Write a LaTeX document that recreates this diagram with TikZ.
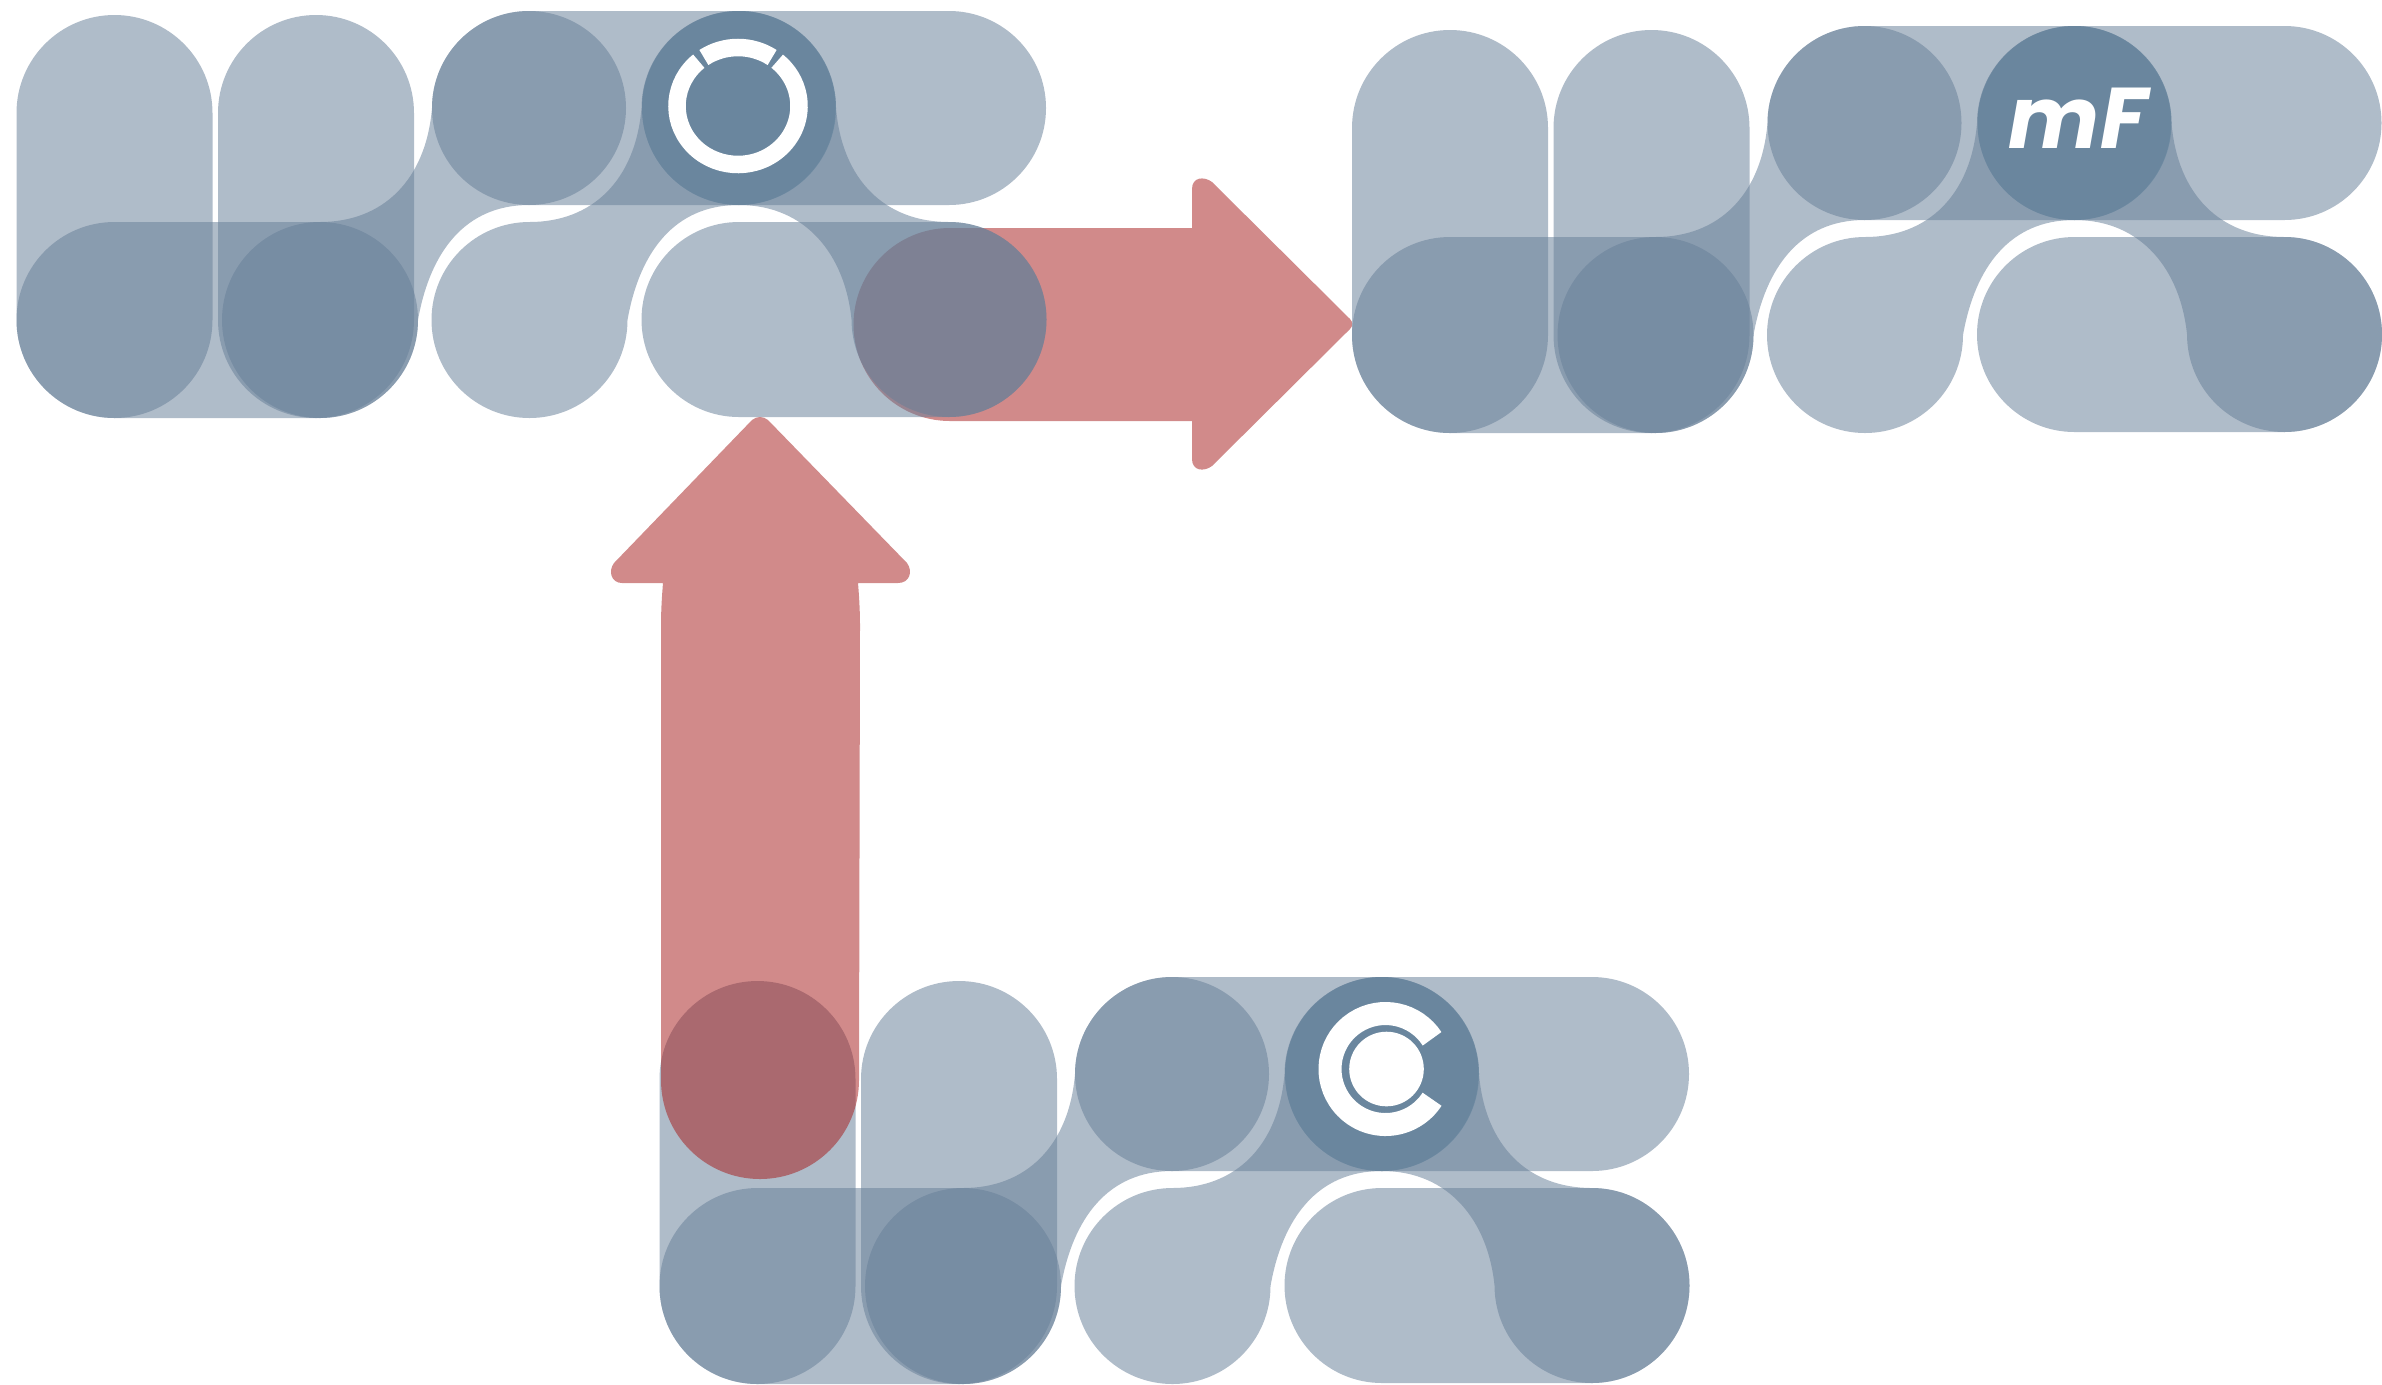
\documentclass[tikz,border=0pt]{standalone}
\usepackage{fontspec}
\usepackage{xcolor}
\setmainfont{Liberation Sans}
\newfontfamily\brandfont{Poppins}
\definecolor{slate}{HTML}{677F98}
\definecolor{slatedeep}{HTML}{5E819B}
\definecolor{rust}{HTML}{A51A1A}
\tikzset{
  tint/.style={fill=slate, fill opacity=0.525},
  redtint/.style={fill=rust, fill opacity=0.51},
  ringarc/.style={draw=white, line width=0.175cm},
  brandtext/.style={text=white, font=\brandfont\bfseries\itshape\fontsize{24.5}{24.5}\selectfont, inner sep=0pt}
}
\begin{document}
\begin{tikzpicture}[x=0.01cm,y=0.01cm]
  \useasboundingbox (0,0) rectangle (2382,-1384);
  % arrow into the right mark, under the marks
  \fill[redtint] (950,-228) -- (1192,-228) -- (1192,-189) .. controls (1192,-177) and (1204,-176) .. (1212,-182)
    -- (1350,-319) .. controls (1353,-322) and (1353,-326) .. (1350,-329)
    -- (1212,-466) .. controls (1204,-472) and (1192,-471) .. (1192,-459)
    -- (1192,-421) -- (950,-421) arc[start angle=270,end angle=90,radius=96.5] -- cycle;
  \foreach \ox/\oy in {0/0,1335.5/15,643/966} {
    \begin{scope}[shift={(\ox,-\oy)}]
      % two upright bars and the foot
      \fill[tint] (16.5,-113) arc[start angle=180,end angle=0,radius=98] -- (212.5,-320)
        arc[start angle=0,end angle=-180,radius=98] -- cycle;
      \fill[tint] (218,-113) arc[start angle=180,end angle=0,radius=98] -- (414,-320)
        arc[start angle=0,end angle=-180,radius=98] -- cycle;
      \fill[tint] (114.5,-222) -- (320,-222) arc[start angle=90,end angle=-90,radius=98] -- (114.5,-418)
        arc[start angle=-90,end angle=-270,radius=98] -- cycle;
      % rising links
      \foreach \dx in {0,209.5} {
        \fill[tint,shift={(\dx,0)}] (320,-222) .. controls (383,-222) and (426,-180) .. (432,-108)
          arc[start angle=180,end angle=-90,radius=97]
          .. controls (465,-205) and (430,-252) .. (418,-320)
          arc[start angle=0,end angle=-270,radius=98] -- cycle;
      }
      % falling link
      \fill[tint] (642,-108) arc[start angle=180,end angle=0,radius=97]
        .. controls (842,-180) and (885,-222) .. (949,-222)
        arc[start angle=90,end angle=-180,radius=97.5]
        .. controls (845,-255) and (806,-205) .. (739,-205)
        arc[start angle=-90,end angle=-180,radius=97] -- cycle;
      % top and lower bars
      \fill[tint] (529,-11) -- (949,-11) arc[start angle=90,end angle=-90,radius=97] -- (529,-205)
        arc[start angle=-90,end angle=-270,radius=97] -- cycle;
      \fill[tint] (739,-222) -- (949,-222) arc[start angle=90,end angle=-90,radius=97.5] -- (739,-417)
        arc[start angle=-90,end angle=-270,radius=97.5] -- cycle;
      \fill[tint,fill=slatedeep] (739,-108) circle[radius=97];
    \end{scope}
  }
  % ring badge
  \draw[ringarc] (738,-106) ++(56:61 and 58.5) arc[start angle=56,end angle=124,x radius=61,y radius=58.5];
  \draw[ringarc] (738,-106) ++(130:61 and 58.5) arc[start angle=130,end angle=410,x radius=61,y radius=58.5];
  % brand text
  \node[brandtext,anchor=base] (mflabel) at (2078,-148) {mF};
  % c badge
  \draw[draw=white,line width=0.23cm] (1385.5,-1069) ++(33:55.5) arc[start angle=33,end angle=327,radius=55.5];
  \fill[white] (1386.5,-1069) circle[radius=37.3];
  % arrow up from the lower mark, over it
  \fill[redtint] (859,-1080) -- (860,-625) .. controls (860,-610) and (859,-595) .. (858,-583)
    -- (898,-583) .. controls (910,-583) and (913,-571) .. (907,-563)
    -- (768,-420) .. controls (763,-416) and (757,-416) .. (752,-420)
    -- (614,-563) .. controls (608,-571) and (611,-583) .. (622,-583)
    -- (663,-583) .. controls (662,-595) and (661,-610) .. (661,-625) -- (661,-1080)
    arc[start angle=180,end angle=360,radius=99] -- cycle;
\end{tikzpicture}
\end{document}
